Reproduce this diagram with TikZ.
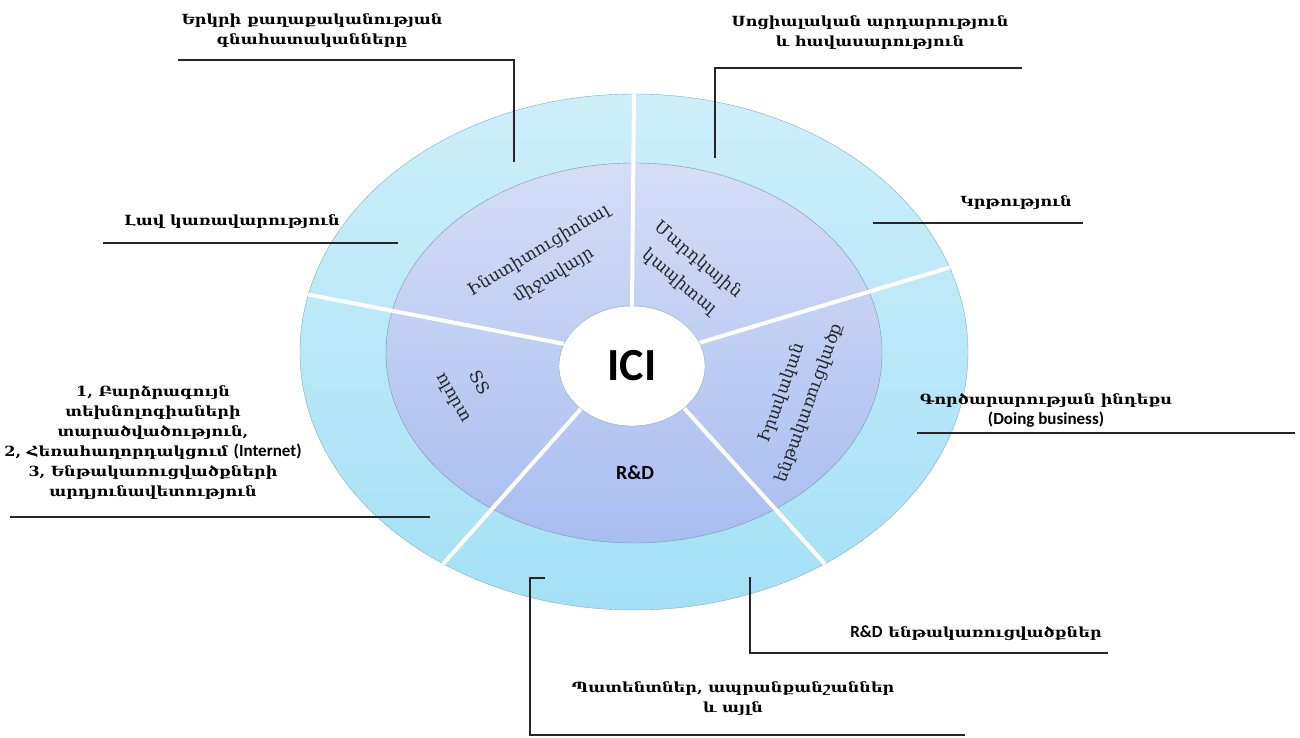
\documentclass[tikz,border=0pt]{standalone}
\usepackage{fontspec}
\setmainfont{Carlito}
\newfontfamily\armfont{DejaVu Serif}
\newfontfamily\armbold[FakeStretch=1.15]{DejaVu Serif Bold}
\usetikzlibrary{shapes.geometric,positioning}

\definecolor{outtop}{HTML}{CDEFFA}
\definecolor{outbot}{HTML}{A4E0F5}
\definecolor{outline}{HTML}{7FAFC6}
\definecolor{midtop}{HTML}{D5DDF6}
\definecolor{midbot}{HTML}{A8BDF0}
\definecolor{midline}{HTML}{7B92C0}

\newcommand\latin[1]{{\normalfont\bfseries\fontsize{17}{20}\selectfont #1}}

\begin{document}
\begin{tikzpicture}[x=1pt,y=-1pt,
    lbl/.style={font=\armbold\fontsize{14}{20}\selectfont, align=center, inner sep=0pt},
    seg/.style={font=\armfont\fontsize{17}{29}\selectfont, align=center, inner sep=0pt, text=black!85},
    lead/.style={line width=2pt, black!85},
    spoke/.style={white, line width=4pt},
    ring/.style={ellipse, inner sep=0pt}]
    \useasboundingbox[fill=white] (0,0) rectangle (1300,738);

    % rings
    \node[ring, draw=outline, top color=outtop, bottom color=outbot, minimum width=668pt, minimum height=516pt] (outer) at (634,352) {};
    \node[ring, draw=midline, top color=midtop, bottom color=midbot, minimum width=496pt, minimum height=380pt] (mid) at (634,353) {};
    \node[ring, draw=outline, fill=white, minimum width=146pt, minimum height=120pt, font=\bfseries\fontsize{46}{46}\selectfont] (ici) at (632,366) {ICI};

    % spokes
    \draw[spoke] (ici.90) -- (outer.90);
    \draw[spoke] (ici.162) -- (outer.170);
    \draw[spoke] (ici.19) -- (outer.15);
    \draw[spoke] (ici.220) -- (outer.228);
    \draw[spoke] (ici.321) -- (outer.312);

    % inner sectors
    \node[seg, rotate=31] (inst) at (546,263) {Ինստիտուցիոնալ\\միջավայր};
    \node[seg, rotate=-40] (human) at (689,271) {Մարդկային\\կապիտալ};
    \node[seg, rotate=70] (legal) at (796,398) {Իրավական\\ենթակառուցվածք};
    \node[seg, rotate=-60] (it) at (466,390) {ՏՏ\\ոլորտ};
    \node[font=\bfseries\fontsize{20}{20}\selectfont] (rd) at (635,473) {R\&D};

    % outer labels
    \node[lbl] (polit) at (312,31) {Երկրի քաղաքականության\\գնահատականները};
    \node[lbl] (social) at (870,33) {Սոցիալական արդարություն\\և հավասարություն};
    \node[lbl] (govern) at (232,222) {Լավ կառավարություն};
    \node[lbl] (educ) at (1016,203) {Կրթություն};
    \node[lbl] (tech) at (153,442) {1, Բարձրագույն\\տեխնոլոգիաների\\տարածվածություն,\\2, Հեռահաղորդակցում \latin{(Internet)}\\3, Ենթակառուցվածքների\\արդյունավետություն};
    \node[lbl] (doing) at (1046,410) {Գործարարության ինդեքս\\\latin{(Doing business)}};
    \node[lbl] (rdinf) at (976,633) {\latin{R\&D} ենթակառուցվածքներ};
    \node[lbl] (patent) at (733,699) {Պատենտներ, ապրանքանշաններ\\և այլն};

    % leader lines
    \coordinate (polit-a) at (178,60);
    \coordinate (polit-b) at (514,60);
    \coordinate (polit-c) at (514,162);
    \coordinate (social-a) at (1022,68);
    \coordinate (social-b) at (715,68);
    \coordinate (social-c) at (715,158);
    \coordinate (govern-a) at (103,243);
    \coordinate (govern-b) at (398,243);
    \coordinate (educ-a) at (1083,223);
    \coordinate (educ-b) at (873,223);
    \coordinate (tech-a) at (10,517);
    \coordinate (tech-b) at (430,517);
    \coordinate (doing-a) at (1295,433);
    \coordinate (doing-b) at (917,433);
    \coordinate (rdinf-a) at (750,577);
    \coordinate (rdinf-b) at (750,653);
    \coordinate (rdinf-c) at (1108,653);
    \coordinate (patent-a) at (545,578);
    \coordinate (patent-b) at (530,578);
    \coordinate (patent-c) at (530,735);
    \coordinate (patent-d) at (965,735);

    \draw[lead] (polit-a) -- (polit-b) -- (polit-c);
    \draw[lead] (social-a) -- (social-b) -- (social-c);
    \draw[lead] (govern-a) -- (govern-b);
    \draw[lead] (educ-a) -- (educ-b);
    \draw[lead] (tech-a) -- (tech-b);
    \draw[lead] (doing-a) -- (doing-b);
    \draw[lead] (rdinf-a) -- (rdinf-b) -- (rdinf-c);
    \draw[lead] (patent-a) -- (patent-b) -- (patent-c) -- (patent-d);
\end{tikzpicture}
\end{document}
